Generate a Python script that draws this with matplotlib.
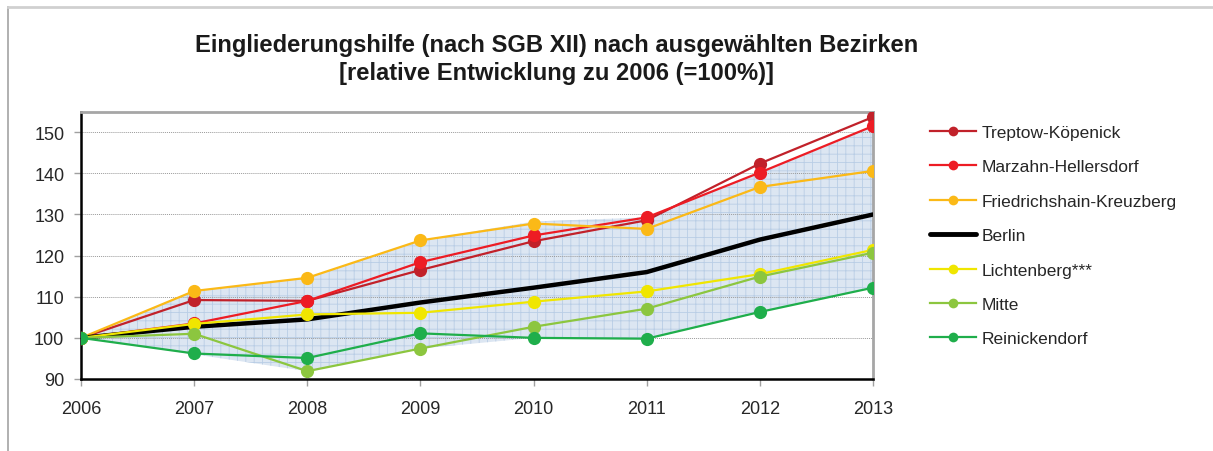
import matplotlib
matplotlib.use("Agg")
import matplotlib.pyplot as plt
from matplotlib.lines import Line2D

plt.rcParams['font.family'] = ['Liberation Sans', 'DejaVu Sans']
plt.rcParams['hatch.linewidth'] = 0.6

years = [2006, 2007, 2008, 2009, 2010, 2011, 2012, 2013]
series_names = ["Treptow-Köpenick", "Marzahn-Hellersdorf", "Friedrichshain-Kreuzberg",
                "Berlin", "Lichtenberg***", "Mitte", "Reinickendorf"]
treptow = [100, 109.2, 109.0, 116.5, 123.5, 128.6, 142.4, 153.7]
marzahn = [100, 103.5, 109.0, 118.4, 124.9, 129.3, 140.2, 151.5]
friedrichshain = [100, 111.4, 114.6, 123.7, 127.8, 126.5, 136.7, 140.6]
berlin = [100, 102.7, 104.5, 108.6, 112.2, 116.0, 123.9, 130.0]
lichtenberg = [100, 103.4, 105.7, 106.1, 108.8, 111.3, 115.5, 121.4]
mitte = [100, 101.0, 91.9, 97.4, 102.7, 107.1, 114.9, 120.7]
reinickendorf = [100, 96.2, 95.1, 101.1, 100.0, 99.8, 106.3, 112.2]
band_upper = [100, 111.4, 114.6, 123.7, 128.3, 129.3, 140.2, 151.5]
band_lower = [100, 96.0, 91.9, 97.4, 100.0, 99.8, 106.3, 112.2]

values = [treptow, marzahn, friedrichshain, berlin, lichtenberg, mitte, reinickendorf]
colors = ["#c1212a", "#ed1c24", "#fbb917", "#000000", "#f0e600", "#8cc63f", "#1fae4b"]

fig = plt.figure(figsize=(12.13, 4.52), dpi=100)
ax = fig.add_axes([0.0668, 0.1593, 0.6529, 0.5914])

ax.fill_between(years, band_lower, band_upper, facecolor="#dce6f2",
                edgecolor="#b9cde5", hatch="++", linewidth=0, zorder=0.3)

for name, vals, c in zip(series_names, values, colors):
    if name == "Berlin":
        ax.plot(years, vals, color=c, lw=3.2, zorder=3, solid_capstyle='round')
    else:
        ax.plot(years, vals, color=c, lw=1.6, marker='o', markersize=9.5,
                markeredgewidth=0, zorder=3)

ax.set_xlim(2006, 2013)
ax.set_ylim(90, 155)
ax.set_yticks([90, 100, 110, 120, 130, 140, 150])
ax.set_xticks(years)
ax.set_xticklabels([str(y) for y in years])
ax.set_axisbelow(True)
ax.grid(axis='y', color="#9a9a9a", lw=0.7, linestyle=(0, (1, 1)))
ax.grid(axis='x', visible=False)

for s in ['left', 'bottom']:
    ax.spines[s].set_color('black')
    ax.spines[s].set_linewidth(1.8)
for s in ['top', 'right']:
    ax.spines[s].set_color('#a6a6a6')
    ax.spines[s].set_linewidth(2.0)

ax.tick_params(axis='both', direction='out', length=5, width=1, color='#a0a0a0',
               labelsize=13, labelcolor='#262626')
ax.tick_params(axis='y', pad=7)
ax.tick_params(axis='x', pad=10)

fig.text(0.4588, 0.868, "Eingliederungshilfe (nach SGB XII) nach ausgewählten Bezirken\n[relative Entwicklung zu 2006 (=100%)]",
         ha='center', va='center', fontsize=17.1, fontweight='bold', color='#1a1a1a',
         linespacing=1.25)

handles = []
for name, c in zip(series_names, colors):
    if name == "Berlin":
        handles.append(Line2D([], [], color=c, lw=3.5, solid_capstyle='round'))
    else:
        handles.append(Line2D([], [], color=c, lw=1.6, marker='o', markersize=7, markeredgewidth=0))
leg = fig.legend(handles, series_names, loc='upper left', bbox_to_anchor=(0.7671, 0.7217),
                 frameon=False, fontsize=12.5, handlelength=2.65, handletextpad=0.3,
                 labelspacing=1.11, borderaxespad=0, borderpad=0)
for t in leg.get_texts():
    t.set_color('#262626')

fig.add_artist(Line2D([0.0066, 0.0066], [0, 0.982], transform=fig.transFigure, color='#aaaaaa', lw=1.3))
fig.add_artist(Line2D([0.0066, 1.0], [0.982, 0.982], transform=fig.transFigure, color='#d0d0d0', lw=2))

fig.savefig("out.png", dpi=100)
